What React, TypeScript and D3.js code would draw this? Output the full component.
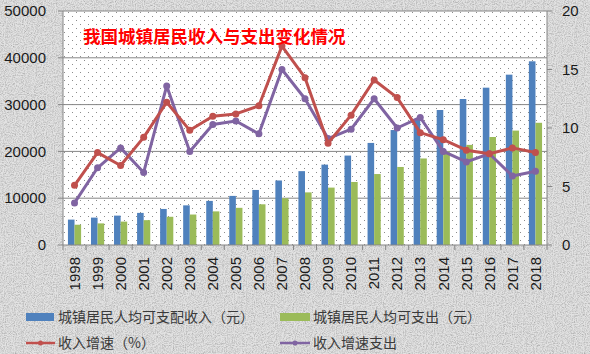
import React from "react";
import * as d3 from "d3";

const years = [
  "1998", "1999", "2000", "2001", "2002", "2003", "2004", "2005", "2006", "2007", "2008",
  "2009", "2010", "2011", "2012", "2013", "2014", "2015", "2016", "2017", "2018",
];
const income = [
  5425, 5854, 6280, 6860, 7703, 8472, 9422, 10493, 11759, 13786, 15781,
  17175, 19109, 21810, 24565, 26955, 28844, 31195, 33616, 36396, 39251,
];
const spending = [
  4332, 4616, 4998, 5309, 6030, 6511, 7182, 7943, 8697, 9997, 11243,
  12265, 13471, 15161, 16674, 18488, 19968, 21392, 23079, 24445, 26112,
];
const incomeGrowth = [
  5.1, 7.9, 6.8, 9.2, 12.2, 9.8, 11.0, 11.2, 11.9, 17.0, 14.3,
  8.7, 11.1, 14.1, 12.6, 9.6, 9.0, 8.1, 7.8, 8.3, 7.9,
];
const spendingGrowth = [
  3.6, 6.6, 8.3, 6.2, 13.6, 8.0, 10.3, 10.6, 9.5, 15.0, 12.5,
  9.1, 9.9, 12.5, 10.0, 10.9, 8.0, 7.1, 7.8, 5.9, 6.3,
];
const leftTicks = [0, 10000, 20000, 30000, 40000, 50000];
const rightTicks = [0, 5, 10, 15, 20];
const seriesNames = ["城镇居民人均可支配收入（元）", "城镇居民人均可支出（元）", "收入增速（%）", "收入增速支出"];
const title = "我国城镇居民收入与支出变化情况";

const W = 590;
const H = 354;
const plot = { left: 63, right: 547, top: 11, bottom: 245 };
const colors = ["#4f81bd", "#9bbb59", "#c0504d", "#8064a2"];
const font = "'Liberation Sans', Arial, sans-serif";
const cjk = "'Noto Sans CJK SC', sans-serif";

export default function App() {
  const x = d3.scaleBand().domain(years).range([plot.left, plot.right]).paddingInner(0).paddingOuter(0);
  const inner = d3.scaleBand().domain(["a", "b"]).range([0, x.bandwidth()]).paddingOuter(0.75).paddingInner(0);
  const yL = d3.scaleLinear().domain([0, 50000]).range([plot.bottom, plot.top]);
  const yR = d3.scaleLinear().domain([0, 20]).range([plot.bottom, plot.top]);
  const cx = (d: string) => (x(d) || 0) + x.bandwidth() / 2;
  const line = d3.line<number>().x((_, i) => cx(years[i])).y((v) => yR(v));

  return (
    <svg width={W} height={H} style={{ position: "absolute", left: 0, top: 0 }}>
      <defs>
        <filter id="granite" x="0" y="0" width="100%" height="100%">
          <feTurbulence type="fractalNoise" baseFrequency="0.9" numOctaves="2" seed="3" />
          <feColorMatrix type="matrix" values="0 0 0 0 0  0 0 0 0 0  0 0 0 0 0  0.9 0.9 0 0 -0.75" />
        </filter>
        <pattern id="dots" width="8" height="8" patternUnits="userSpaceOnUse">
          <rect width="8" height="8" fill="#ffffff" />
          <rect x="0" y="0" width="1" height="1" fill="#8c8c8c" />
          <rect x="4" y="4" width="1" height="1" fill="#8c8c8c" />
        </pattern>
      </defs>
      <rect width={W} height={H} fill="#e2e2e2" />
      <rect width={W} height={H} filter="url(#granite)" opacity="0.35" />
      <rect x={plot.left} y={plot.top} width={plot.right - plot.left} height={plot.bottom - plot.top} fill="url(#dots)" />

      {leftTicks.map((t) => (
        <g key={t}>
          {t > 0 && <line x1={plot.left} x2={plot.right} y1={yL(t)} y2={yL(t)} stroke="#868686" strokeWidth={1} />}
          <line x1={plot.left - 5} x2={plot.left} y1={yL(t)} y2={yL(t)} stroke="#868686" />
          <text x={46} y={yL(t)} dy="0.35em" textAnchor="end" fontFamily={font} fontSize={15} fill="#1a1a1a">
            {t}
          </text>
        </g>
      ))}
      {rightTicks.map((t) => (
        <g key={t}>
          <line x1={plot.right} x2={plot.right + 5} y1={yR(t)} y2={yR(t)} stroke="#868686" />
          <text x={562} y={yR(t)} dy="0.35em" textAnchor="start" fontFamily={font} fontSize={15} fill="#1a1a1a">
            {t}
          </text>
        </g>
      ))}
      <line x1={plot.left} x2={plot.left} y1={plot.top} y2={plot.bottom} stroke="#868686" />
      <line x1={plot.right} x2={plot.right} y1={plot.top} y2={plot.bottom} stroke="#868686" />

      {years.map((yr, i) => (
        <g key={yr}>
          <rect x={(x(yr) || 0) + (inner("a") || 0)} y={yL(income[i])} width={inner.bandwidth()} height={plot.bottom - yL(income[i])} fill={colors[0]} />
          <rect x={(x(yr) || 0) + (inner("b") || 0)} y={yL(spending[i])} width={inner.bandwidth()} height={plot.bottom - yL(spending[i])} fill={colors[1]} />
        </g>
      ))}

      <line x1={plot.left} x2={plot.right} y1={plot.bottom} y2={plot.bottom} stroke="#868686" />
      {years.concat(["end"]).map((yr, i) => {
        const xx = plot.left + i * x.step();
        return <line key={"t" + i} x1={xx} x2={xx} y1={plot.bottom} y2={plot.bottom + 5} stroke="#868686" />;
      })}
      {years.map((yr) => (
        <text
          key={"l" + yr}
          transform={`translate(${cx(yr)},${plot.bottom + 12}) rotate(-90)`}
          dy="0.35em"
          textAnchor="end"
          fontFamily={font}
          fontSize={15}
          fill="#1a1a1a"
        >
          {yr}
        </text>
      ))}

      {[spendingGrowth, incomeGrowth].map((vals, k) => {
        const c = k === 0 ? colors[3] : colors[2];
        return (
          <g key={"s" + k}>
            <path d={line(vals) || ""} fill="none" stroke={c} strokeWidth={3} strokeLinejoin="round" />
            {vals.map((v, i) => (
              <circle key={i} cx={cx(years[i])} cy={yR(v)} r={3.5} fill={c} />
            ))}
          </g>
        );
      })}

      <text x={83} y={37} dy="0.35em" fontFamily={cjk} fontSize={17.5} fontWeight="bold" fill="#ff0000">
        {title}
      </text>

      <g fontFamily={cjk} fontSize={14} fill="#3a3a3a">
        <rect x={26} y={313} width={28} height={8} fill={colors[0]} />
        <text x={58} y={317} dy="0.35em">{seriesNames[0]}</text>
        <rect x={280} y={313} width={30} height={8} fill={colors[1]} />
        <text x={313} y={317} dy="0.35em">{seriesNames[1]}</text>
        <line x1={26} x2={55} y1={343} y2={343} stroke={colors[2]} strokeWidth={2.5} />
        <circle cx={40.5} cy={343} r={2.5} fill={colors[2]} />
        <text x={58} y={343} dy="0.35em">{seriesNames[2]}</text>
        <line x1={280} x2={310} y1={343} y2={343} stroke={colors[3]} strokeWidth={2.5} />
        <circle cx={295} cy={343} r={2.5} fill={colors[3]} />
        <text x={313} y={343} dy="0.35em">{seriesNames[3]}</text>
      </g>
    </svg>
  );
}
